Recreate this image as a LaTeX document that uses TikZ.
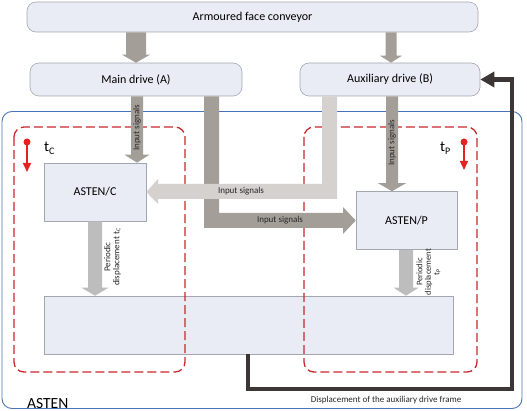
\documentclass[tikz,border=0pt]{standalone}
\usepackage{fontspec}
\setmainfont{Carlito}
\usetikzlibrary{calc,arrows.meta}
\definecolor{boxfill}{HTML}{E9EBF5}
\definecolor{boxdraw}{HTML}{A3A7B0}
\definecolor{darkarr}{HTML}{A49E99}
\definecolor{lightarr}{HTML}{D5D1CF}
\definecolor{perarr}{HTML}{BDBDBD}
\definecolor{framecol}{HTML}{4A72B8}
\definecolor{dashred}{HTML}{C8282C}
\definecolor{pinred}{HTML}{E3231F}
\definecolor{fbcol}{HTML}{3D3636}
\newcommand\fs[1]{\fontsize{#1}{#1}\selectfont}
% vertical block arrow: #1 top point, #2 tip point, #3 half shaft, #4 half head, #5 head length, #6 fill
\newcommand\vblk[6]{%
  \fill[#6] let \p1=#1, \p2=#2 in
    (\x2-#3pt,\y1) -- (\x2+#3pt,\y1) -- (\x2+#3pt,\y2+#5pt) -- (\x2+#4pt,\y2+#5pt)
    -- (\x2,\y2) -- (\x2-#4pt,\y2+#5pt) -- (\x2-#3pt,\y2+#5pt) -- cycle;}
\begin{document}
\begin{tikzpicture}[x=1pt,y=-1pt,
  rbox/.style={draw=boxdraw, fill=boxfill, rounded corners=9pt, line width=0.6pt, inner sep=0pt, font=\fs{12}},
  sbox/.style={draw=boxdraw, fill=boxfill, line width=0.6pt, inner sep=0pt, font=\fs{12}},
  lbl/.style={font=\fs{9}, text=black!85, inner sep=0pt},
  redbox/.style={draw=dashred, line width=1.3pt, dash pattern=on 9pt off 4pt, rounded corners=10pt},
  pin/.style={draw=pinred, line width=1.5pt, -{Triangle[length=9pt,width=8pt]}},
  fb/.style={draw=fbcol, line width=4.5pt, -{Triangle[length=14pt,width=15pt]}}]
\useasboundingbox (0,0) rectangle (527,411);
% ASTEN frame
\node[draw=framecol, line width=0.9pt, rounded corners=10pt, minimum width=520pt, minimum height=297pt, inner sep=0pt] (asten) at (262,260) {};
% boxes
\node[rbox, minimum width=451pt, minimum height=30pt] (conv) at (252.5,17) {Armoured face conveyor};
\node[rbox, minimum width=212pt, minimum height=33pt] (main) at (136,79.5) {Main drive (A)};
\node[rbox, minimum width=180pt, minimum height=33pt] (aux) at (390,79.5) {Auxiliary drive (B)};
\node[sbox, minimum width=102pt, minimum height=58pt] (astc) at (95,192) {ASTEN/C};
\node[sbox, minimum width=101pt, minimum height=58pt] (astp) at (406.5,220.5) {ASTEN/P};
\node[sbox, minimum width=409pt, minimum height=58pt] (base) at (248.5,325) {};
% dashed red boxes
\draw[redbox] (14,127) rectangle (185,372);
\draw[redbox] (304,127) rectangle (477,372);
% arrows drives
\vblk{(conv.south -| 136,0)}{(main.north -| 136,0)}{10}{14}{8}{darkarr}
\vblk{(conv.south -| 391,0)}{(aux.north -| 391,0)}{5.5}{11}{7}{darkarr}
\vblk{(main.south -| 137,0)}{(astc.north -| 137,0)}{6}{12.5}{8}{darkarr}
\vblk{(aux.south -| 392,0)}{(astp.north -| 392,0)}{6}{14}{8}{darkarr}
% dark elbow: main drive -> ASTEN/P
\fill[darkarr] (main.south -| 204,0) -- (main.south -| 219,0) -- (219,213) -- (343,213) -- (343,207)
  -- (astp.west) -- (343,234) -- (343,228) -- (204,228) -- cycle;
% light elbow: auxiliary drive -> ASTEN/C
\fill[lightarr] (aux.south -| 322,0) -- (aux.south -| 337,0) -- (337,199) -- (158,199) -- (158,204)
  -- (astc.east) -- (158,179) -- (158,184) -- (322,184) -- cycle;
% periodic displacement arrows
\vblk{(astc.south -| 95,0)}{(base.north -| 95,0)}{7}{13.5}{8}{perarr}
\vblk{(astp.south -| 406,0)}{(base.north -| 406,0)}{7}{12.5}{8}{perarr}
% feedback
\coordinate (fbr) at (512,389);
\draw[fb] (base.south -| 248,0) |- (fbr) |- (aux.east);
% pins
\fill[pinred] (27,142) circle (3.5pt);
\draw[pin] (27,142) -- (27,172);
\fill[pinred] (464,142) circle (3.5pt);
\draw[pin] (464,142) -- (464,170);
% labels
\node[lbl, rotate=90] (l1) at (137,128) {Input signals};
\node[lbl, rotate=90] (l2) at (392,143) {Input signals};
\node[lbl] (l3) at (241,191.5) {Input signals};
\node[lbl] (l4) at (280,220.5) {Input signals};
\node[lbl, rotate=90, align=center] (l5) at (112.5,257) {Periodic\\displacement t\textsubscript{C}};
\node[lbl, rotate=90, align=center, font=\fs{8.5}] (l6) at (428.5,272) {Periodic\\displacement\\t\textsubscript{P}};
\node[lbl, anchor=base] (l7) at (386,402) {Displacement of the auxiliary drive frame};
\node[inner sep=0pt, anchor=base west, font=\fs{15.5}] (l8) at (27,408) {ASTEN};
\node[inner sep=0pt, anchor=base west, font=\fs{15}] (tc) at (44,152) {t\raisebox{-2.5pt}{\fs{10}C}};
\node[inner sep=0pt, anchor=base west, font=\fs{15}] (tp) at (440,152) {t\raisebox{-2.5pt}{\fs{10}P}};
\end{tikzpicture}
\end{document}
